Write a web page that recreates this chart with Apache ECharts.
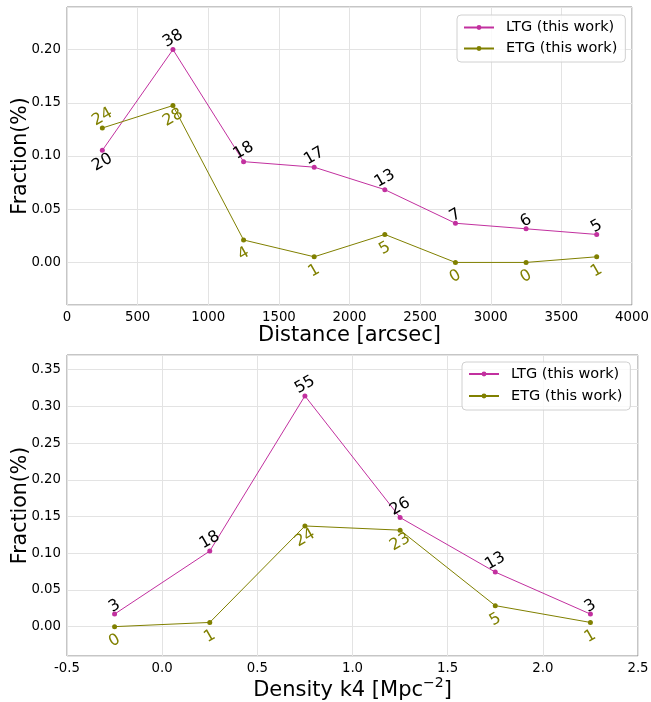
<!DOCTYPE html>
<html>
<head>
<meta charset="utf-8">
<script src="https://cdn.jsdelivr.net/npm/echarts@6/dist/echarts.min.js"></script>
<style>
  html, body { margin: 0; padding: 0; background: #ffffff; }
  #chart { width: 651px; height: 702px; }
</style>
</head>
<body>
<div id="chart"></div>
<script>
// Radial distance bins (arcsec, bin centres)
const distanceBins = [250, 750, 1250, 1750, 2250, 2750, 3250, 3750];
const ltgDistCounts = [20, 38, 18, 17, 13, 7, 6, 5];
const etgDistCounts = [24, 28, 4, 1, 5, 0, 0, 1];
const ltgDistFraction = [0.1053, 0.2000, 0.0947, 0.0895, 0.0684, 0.0368, 0.0316, 0.0263];
const etgDistFraction = [0.1263, 0.1474, 0.0211, 0.0053, 0.0263, 0.0000, 0.0000, 0.0053];

// Local density bins (k4, Mpc^-2, bin centres)
const densityBins = [-0.25, 0.25, 0.75, 1.25, 1.75, 2.25];
const ltgDensCounts = [3, 18, 55, 26, 13, 3];
const etgDensCounts = [0, 1, 24, 23, 5, 1];
const ltgDensFraction = [0.0171, 0.1029, 0.3143, 0.1486, 0.0743, 0.0171];
const etgDensFraction = [0.0000, 0.0057, 0.1371, 0.1314, 0.0286, 0.0057];

const LTG_NAME = 'LTG (this work)';
const ETG_NAME = 'ETG (this work)';

const FONT = 'DejaVu Sans';
const LTG_COLOR = '#c2309f';
const ETG_COLOR = '#808000';
const FRAME = '#8c8c8c';
const GRIDLINE = '#e3e3e3';
const SYM = 5;

// Count annotations: rotated 30 degrees, above or below the marker
function countLabel(count, above, color) {
  const twoDigits = String(count).length > 1;
  const d = above ? (twoDigits ? 11 : 8) : (twoDigits ? 12 : 14);
  return {
    show: true,
    formatter: String(count),
    position: [SYM / 2, SYM / 2 + (above ? -d : d)],
    rotate: 30,
    align: 'center',
    verticalAlign: 'middle',
    color: color,
    fontSize: 16,
    fontFamily: FONT
  };
}

function buildData(xs, ys, counts, defaultAbove, flipped, labelColor) {
  return xs.map((x, i) => {
    const above = flipped.indexOf(i) >= 0 ? !defaultAbove : defaultAbove;
    return { value: [x, ys[i]], label: countLabel(counts[i], above, labelColor) };
  });
}

function lineSeries(name, color, gridIdx, data) {
  return {
    name: name,
    type: 'line',
    xAxisIndex: gridIdx,
    yAxisIndex: gridIdx,
    data: data,
    symbol: 'circle',
    symbolSize: SYM,
    showSymbol: true,
    color: color,
    lineStyle: { width: 1, color: color },
    itemStyle: { color: color },
    emphasis: { disabled: true },
    animation: false,
    clip: false
  };
}

const tickLabel = { color: '#000', fontSize: 13.3, fontFamily: FONT, margin: 6 };

function xAxis(gridIdx, min, max, interval, fmt, name, gap, extraName) {
  return {
    type: 'value', gridIndex: gridIdx, min: min, max: max, interval: interval,
    axisLine: { show: false }, axisTick: { show: false },
    axisLabel: Object.assign({ formatter: fmt }, tickLabel),
    splitLine: { show: true, lineStyle: { color: GRIDLINE, width: 1 } },
    name: name, nameLocation: 'middle', nameGap: gap,
    nameTextStyle: Object.assign({ color: '#000', fontSize: 21, fontFamily: FONT }, extraName || {})
  };
}

function yAxis(gridIdx, min, max, splitNumber) {
  return {
    type: 'value', gridIndex: gridIdx, min: min, max: max, splitNumber: splitNumber,
    axisLine: { show: false }, axisTick: { show: false },
    axisLabel: Object.assign({
      formatter: v => v.toFixed(2), showMinLabel: false, showMaxLabel: false
    }, tickLabel),
    splitLine: { show: true, lineStyle: { color: GRIDLINE, width: 1 } },
    name: 'Fraction(%)', nameLocation: 'middle', nameGap: 36, nameMoveOverlap: false,
    nameTextStyle: { color: '#000', fontSize: 20.5, fontFamily: FONT }
  };
}

function legend(left, top, rowHeight, padding) {
  return {
    data: [LTG_NAME, ETG_NAME],
    orient: 'vertical',
    left: left, top: top,
    itemWidth: 30, itemHeight: 6, itemGap: 0,
    padding: padding,
    backgroundColor: 'rgba(255,255,255,0.8)',
    borderColor: '#d0d0d0', borderWidth: 1, borderRadius: 4,
    textStyle: { color: '#000', fontSize: 14.5, fontFamily: FONT, lineHeight: rowHeight, padding: [0, 0, 0, 7] },
    selectedMode: false
  };
}

const chart = echarts.init(document.getElementById('chart'), null, { renderer: 'canvas' });

chart.setOption({
  backgroundColor: '#ffffff',
  animation: false,
  grid: [
    { left: 67, top: 7, right: 19, height: 298, outerBoundsMode: 'none', containLabel: false,
      show: true, borderColor: FRAME, borderWidth: 1, backgroundColor: 'transparent' },
    { left: 67, top: 355, right: 13, height: 301, outerBoundsMode: 'none', containLabel: false,
      show: true, borderColor: FRAME, borderWidth: 1, backgroundColor: 'transparent' }
  ],
  xAxis: [
    xAxis(0, 0, 4000, 500, v => String(v), 'Distance [arcsec]', 17.5),
    xAxis(1, -0.5, 2.5, 0.5, v => v.toFixed(1), 'Density k4 [Mpc{sup|\u22122}]', 14, {
      lineHeight: 30,
      rich: { sup: { fontSize: 14, fontFamily: FONT, color: '#000', lineHeight: 13, verticalAlign: 'top' } }
    })
  ],
  yAxis: [
    yAxis(0, -0.04, 0.24, 6),
    yAxis(1, -0.04, 0.37, 8)
  ],
  legend: [legend(457, 15, 21, [2, 8, 3, 6]), legend(462, 362, 22, [1, 8, 3, 6])],
  series: [
    lineSeries(LTG_NAME, LTG_COLOR, 0, buildData(distanceBins, ltgDistFraction, ltgDistCounts, true, [0], '#000')),
    lineSeries(ETG_NAME, ETG_COLOR, 0, buildData(distanceBins, etgDistFraction, etgDistCounts, false, [0], ETG_COLOR)),
    lineSeries(LTG_NAME, LTG_COLOR, 1, buildData(densityBins, ltgDensFraction, ltgDensCounts, true, [], '#000')),
    lineSeries(ETG_NAME, ETG_COLOR, 1, buildData(densityBins, etgDensFraction, etgDensCounts, false, [], ETG_COLOR))
  ]
});
</script>
</body>
</html>
